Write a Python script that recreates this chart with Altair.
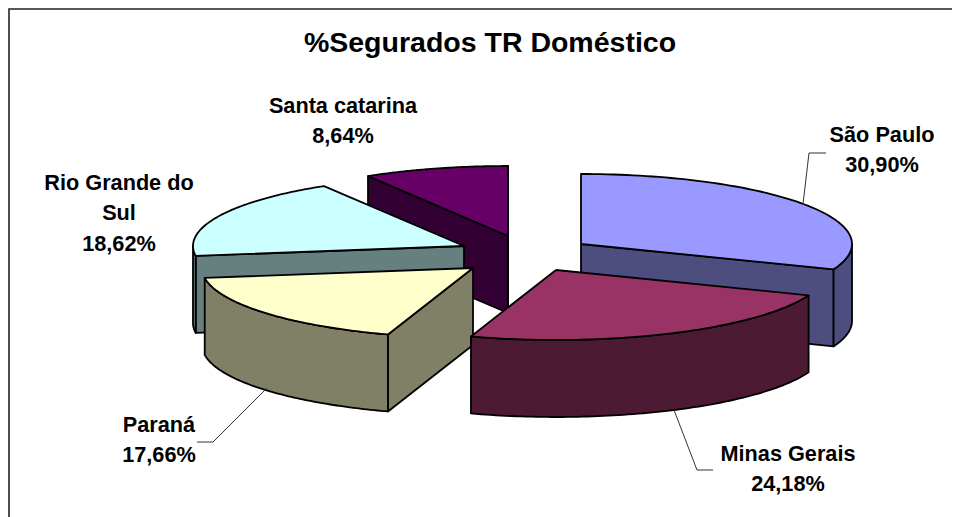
import math
import altair as alt
import pandas as pd

# --- chart values ---
title_text = "%Segurados TR Doméstico"
states = ["São Paulo", "Minas Gerais", "Paraná", "Rio Grande do Sul", "Santa catarina"]
shares = [30.90, 24.18, 17.66, 18.62, 8.64]
share_labels = ["30,90%", "24,18%", "17,66%", "18,62%", "8,64%"]
top_colors = ["#9999FF", "#993366", "#FFFFCC", "#CCFFFF", "#660066"]
side_colors = ["#4D4D80", "#4D1A33", "#808066", "#668080", "#330033"]

# --- layout of the exploded 3-D pie ---
W, H = 944, 509
LEFT, TOP = 8, 8
RX, RY, DEPTH = 271, 70, 77
apex_x = [581, 556, 473, 464, 508]
apex_y = [244, 270, 268, 246, 236]
draw_order = [4, 3, 0, 2, 1]
label_x = [882, 788, 159, 119, 343]
label_y = [135, 454, 425, 183, 106]
label_lines = [["São Paulo", "30,90%"], ["Minas Gerais", "24,18%"], ["Paraná", "17,66%"],
               ["Rio Grande do", "Sul", "18,62%"], ["Santa catarina", "8,64%"]]
leader_x = [[803, 809, 826], [674, 697, 713], [267, 213, 197]]
leader_y = [[204, 153, 153], [410, 470, 470], [388, 442, 442]]

x_scale = alt.Scale(domain=[LEFT, LEFT + W], range=[0, W], nice=False, zero=False)
y_scale = alt.Scale(domain=[TOP + H, TOP], range=[H, 0], nice=False, zero=False)
X = alt.X("x:Q", scale=x_scale, axis=None)
Y = alt.Y("y:Q", scale=y_scale, axis=None)


def rim(cx, cy, a, b, n=80):
    pts = []
    for k in range(n + 1):
        t = math.radians(a + (b - a) * k / n)
        pts.append((cx + RX * math.sin(t), cy - RY * math.cos(t)))
    return pts


def polygon(pts, fill, sw=1.8):
    closed = list(pts) + [pts[0]]
    df = pd.DataFrame({"x": [p[0] for p in closed], "y": [p[1] for p in closed], "i": range(len(closed))})
    return alt.Chart(df).mark_line(
        fill=fill, stroke="#000000", strokeWidth=sw, strokeJoin="round", interpolate="linear"
    ).encode(x=X, y=Y, order=alt.Order("i:Q"))


def extrude(pts):
    return list(pts) + [(p[0], p[1] + DEPTH) for p in reversed(pts)]


layers = []

# frame of the chart area (open at right and bottom, as it is cropped)
frame = pd.DataFrame({"x": [9, 9, LEFT + W], "y": [TOP + H, 9, 9], "i": [0, 1, 2]})
layers.append(alt.Chart(frame).mark_line(stroke="#222222", strokeWidth=1.6).encode(x=X, y=Y, order="i:Q"))

# cumulative angles, clockwise from twelve o'clock
starts, ang = [], 0.0
for s in shares:
    starts.append(ang)
    ang += s * 3.6

for idx in draw_order:
    a, b = starts[idx], starts[idx] + shares[idx] * 3.6
    cx, cy = apex_x[idx], apex_y[idx]
    arc = rim(cx, cy, a, b)
    side = side_colors[idx]
    if math.sin(math.radians(a)) < 0:          # start cut faces the viewer
        layers.append(polygon(extrude([(cx, cy), arc[0]]), side))
    if math.sin(math.radians(b)) > 0:          # end cut faces the viewer
        layers.append(polygon(extrude([(cx, cy), arc[-1]]), side))
    lo, hi = max(a, 90), min(b, 270)
    if lo < hi:                                # visible part of the rim
        layers.append(polygon(extrude(rim(cx, cy, lo, hi)), side))
    layers.append(polygon([(cx, cy)] + arc, top_colors[idx]))

# leader lines
for xs, ys in zip(leader_x, leader_y):
    df = pd.DataFrame({"x": xs, "y": ys, "i": range(len(xs))})
    layers.append(alt.Chart(df).mark_line(stroke="#333333", strokeWidth=1).encode(x=X, y=Y, order="i:Q"))

# labels
rows = []
for lx, ly, lines in zip(label_x, label_y, label_lines):
    for j, t in enumerate(lines):
        rows.append({"x": lx, "y": ly + j * 30.3, "t": t})
layers.append(
    alt.Chart(pd.DataFrame(rows)).mark_text(
        font="Liberation Sans", fontWeight="bold", fontSize=21.7, color="#000000",
        align="center", baseline="middle"
    ).encode(x=X, y=Y, text="t:N")
)
layers.append(
    alt.Chart(pd.DataFrame({"x": [490], "y": [43], "t": [title_text]})).mark_text(
        font="Liberation Sans", fontWeight="bold", fontSize=28.5, color="#000000",
        align="center", baseline="middle"
    ).encode(x=X, y=Y, text="t:N")
)

chart = alt.layer(*layers).properties(
    width=W, height=H, background="#FFFFFF", padding=0,
    autosize=alt.AutoSizeParams(type="none"),
).configure_view(stroke=None)

chart.save("out.html", embed_options={"renderer": "svg", "actions": False})
